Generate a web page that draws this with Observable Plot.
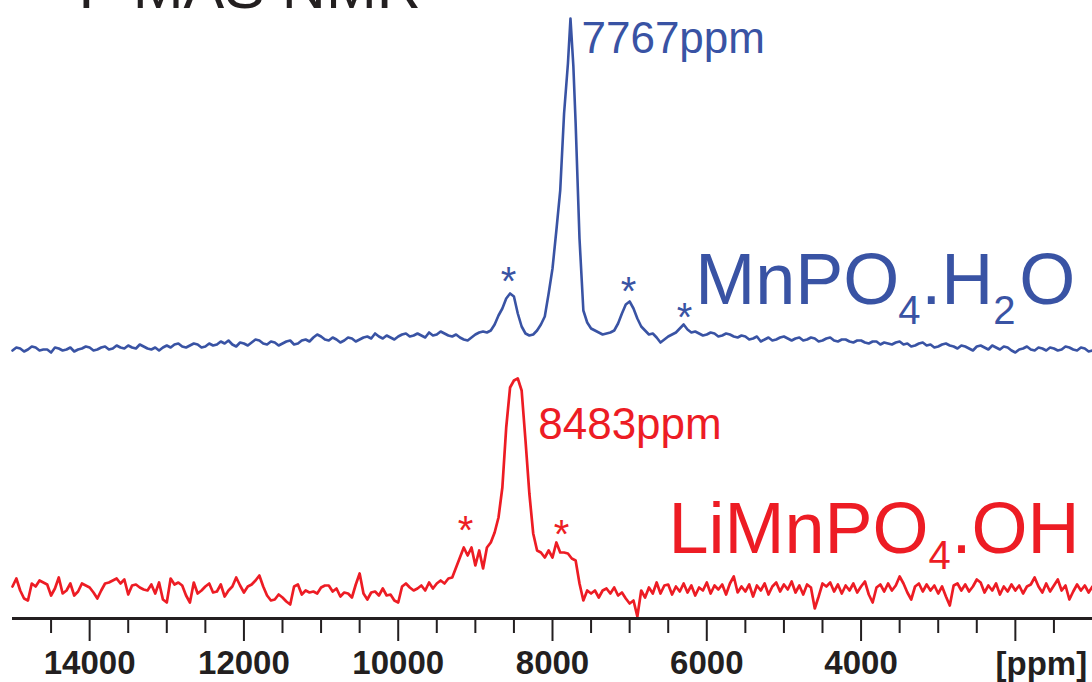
<!DOCTYPE html>
<html>
<head>
<meta charset="utf-8">
<script src="https://cdn.jsdelivr.net/npm/d3@7"></script>
<script src="https://cdn.jsdelivr.net/npm/@observablehq/plot@0.6"></script>
<style>
html,body{margin:0;padding:0;background:#fff;overflow:hidden}
</style>
</head>
<body>
<div id="chart"></div>
<script>
// ---- data ----
const bluePpm = [15000,14950,14900,14850,14800,14750,14700,14650,14600,14550,14500,14450,14400,14350,14300,14250,14200,14150,14100,14050,
14000,13950,13900,13850,13800,13750,13700,13650,13600,13550,13500,13450,13400,13350,13300,13250,13200,13150,13100,13050,
13000,12950,12900,12850,12800,12750,12700,12650,12600,12550,12500,12450,12400,12350,12300,12250,12200,12150,12100,12050,
12000,11950,11900,11850,11800,11750,11700,11650,11600,11550,11500,11450,11400,11350,11300,11250,11200,11150,11100,11050,
11000,10950,10900,10850,10800,10750,10700,10650,10600,10550,10500,10450,10400,10350,10300,10250,10200,10150,10100,10050,
10000,9950,9900,9850,9800,9750,9700,9650,9600,9550,9500,9450,9400,9350,9300,9250,9200,9150,9100,9050,
9000,8950,8900,8850,8800,8750,8700,8650,8600,8550,8500,8450,8400,8350,8300,8250,8200,8150,8100,
8050,8000,7950,7900,7850,7800,7767,7730,7700,7650,7600,7550,7500,
7450,7400,7350,7300,7250,7200,7150,7100,7050,
7000,6950,6900,6850,6800,6750,6700,6650,6600,6550,6500,6450,6400,6350,6300,6250,6200,6150,6100,6050,
6000,5950,5900,5850,5800,5750,5700,5650,5600,5550,5500,5450,5400,5350,5300,5250,5200,5150,5100,5050,
5000,4950,4900,4850,4800,4750,4700,4650,4600,4550,4500,4450,4400,4350,4300,4250,4200,4150,4100,4050,
4000,3950,3900,3850,3800,3750,3700,3650,3600,3550,3500,3450,3400,3350,3300,3250,3200,3150,3100,3050,
3000,2950,2900,2850,2800,2750,2700,2650,2600,2550,2500,2450,2400,2350,2300,2250,2200,2150,2100,2050,
2000,1950,1900,1850,1800,1750,1700,1650,1600,1550,1500,1450,1400,1350,1300,1250,1200,1150,1100,1050,
1000];
const blueIntensity = [-2,1,0,-3,-1,2,1,-2,-1,-1,-4,1,0,-2,-1,1,-3,-1,0,2,
1,-2,-1,1,2,-1,0,3,1,0,3,1,0,4,2,0,-1,1,-2,1,
3,1,4,5,2,1,3,5,4,1,2,5,3,4,7,5,8,4,2,6,
5,3,6,9,8,5,4,7,6,3,5,7,8,4,5,8,9,7,11,14,
12,9,8,11,9,6,8,11,10,7,9,11,12,10,15,12,10,13,11,9,
12,14,15,12,13,15,13,11,16,13,14,17,15,13,12,14,11,9,8,11,
14,16,17,16,18,24,33,40,50,55,52,35,22,15,13,14,18,24,32,
55,80,118,158,235,285,330,283,225,110,38,26,20,
18,16,14,15,16,18,25,35,44,
47,40,30,22,18,14,15,11,6,9,12,14,16,20,24,19,16,17,15,13,
14,16,15,12,13,15,14,12,11,13,12,9,10,12,7,9,11,8,9,11,
12,10,8,10,11,8,9,11,10,7,8,10,11,8,7,9,9,7,6,8,
8,6,5,7,7,4,6,5,4,6,7,4,5,2,3,5,6,3,4,1,
2,4,5,3,2,0,3,2,0,-2,2,3,1,-1,3,1,-1,2,1,-2,
-4,-1,0,2,-1,-2,1,0,-2,1,0,-2,-1,2,1,-1,-2,1,0,-3,
-2];

const redPpm = [15000,14950,14900,14850,14800,14750,14700,14650,14600,14550,14500,14450,14400,14350,14300,14250,14200,14150,14100,14050,
14000,13950,13900,13850,13800,13750,13700,13650,13600,13550,13500,13450,13400,13350,13300,13250,13200,13150,13100,13050,
13000,12950,12900,12850,12800,12750,12700,12650,12600,12550,12500,12450,12400,12350,12300,12250,12200,12150,12100,12050,
12000,11950,11900,11850,11800,11750,11700,11650,11600,11550,11500,11450,11400,11350,11300,11250,11200,11150,11100,11050,
11000,10950,10900,10850,10800,10750,10700,10650,10600,10550,10500,10450,10400,10350,10300,10250,10200,10150,10100,10050,
10000,9950,9900,9850,9800,9750,9700,9650,9600,9550,9500,9450,9400,9350,9300,9250,9200,9150,9100,9050,
9000,8950,8900,8850,8800,8750,8700,8650,8600,8550,8500,8450,8400,8350,8300,8250,8200,8150,8100,8050,
8000,7950,7900,7850,7800,7750,7700,7650,7600,7550,7500,7450,7400,7350,7300,7250,7200,7150,7100,7050,
7000,6950,6900,6850,6800,6750,6700,6650,6600,6550,6500,6450,6400,6350,6300,6250,6200,6150,6100,6050,
6000,5950,5900,5850,5800,5750,5700,5650,5600,5550,5500,5450,5400,5350,5300,5250,5200,5150,5100,5050,
5000,4950,4900,4850,4800,4750,4700,4650,4600,4550,4500,4450,4400,4350,4300,4250,4200,4150,4100,4050,
4000,3950,3900,3850,3800,3750,3700,3650,3600,3550,3500,3450,3400,3350,3300,3250,3200,3150,3100,3050,
3000,2950,2900,2850,2800,2750,2700,2650,2600,2550,2500,2450,2400,2350,2300,2250,2200,2150,2100,2050,
2000,1950,1900,1850,1800,1750,1700,1650,1600,1550,1500,1450,1400,1350,1300,1250,1200,1150,1100,1050,
1000];
const redIntensity = [2,10,-2,-10,-12,5,2,8,6,4,
-7,0,11,-5,-2,5,-7,-3,5,3,
1,-4,-10,-2,5,6,8,10,5,9,
-6,3,4,1,-1,-2,4,-5,6,-11,
-14,10,4,6,3,-7,-14,6,-5,-2,
2,5,-4,-3,4,-8,-2,2,11,3,
-4,2,4,8,13,2,-7,-12,-11,-6,
-9,-13,-16,2,4,-6,-2,-4,-3,-5,
1,3,3,-3,0,-8,-4,-5,-9,4,
15,-5,-11,-4,-3,-7,0,-7,-6,-12,
-14,2,5,1,-2,0,
3,-2,6,0,5,8,5,10,11,21,
31,41,33,41,23,38,20,41,46,56,
71,101,161,201,208,210,198,148,95,55,
38,36,31,38,31,46,36,36,35,30,
28,5,-12,-2,-5,-2,-9,-2,0,-5,
1,-7,-4,-10,-15,-12,-28,-2,-9,1,
-5,6,-5,3,
4,-6,2,-3,5,-4,3,-7,1,-2,
6,-5,3,-1,4,-6,5,12,-4,2,
-3,4,-8,3,-2,5,-6,2,6,-3,
4,-1,7,-4,3,-6,4,1,-20,-8,
5,2,6,-3,4,-5,3,-2,5,-4,
2,7,-6,-14,1,4,-3,5,-2,3,
12,5,-4,-11,2,5,-3,4,-2,3,
-5,2,-8,-17,3,5,-2,4,-3,2,
9,6,-4,3,-2,5,-6,2,-3,4,
-2,3,-5,2,4,11,2,-4,5,-3,
3,9,-2,3,-11,-3,4,-2,3,-4,
2];

const blueOffset = 270;
const redOffset = 30;

const majorTicks = [14000,12000,10000,8000,6000,4000,2000];
const minorTicks = [14500,13500,13000,12500,11500,11000,10500,9500,9000,8500,7500,7000,6500,5500,5000,4500,3500,3000,2500,1500];

const blueStarPpm = [8570, 7014, 6289];
const blueStarLevel = [324, 314, 288];
const redStarPpm = [9128, 7883];
const redStarLevel = [75, 71];

const bluePeakPpm = 7767;
const redPeakPpm = 8483;

// ---- styling ----
const blue = "#3953a4", red = "#ed1c24", ink = "#231f20";
const font = "'Liberation Sans', Arial, Helvetica, sans-serif";

const blueData = bluePpm.map((p, i) => ({ppm: p, v: blueOffset + blueIntensity[i]}));
const redData = redPpm.map((p, i) => ({ppm: p, v: redOffset + redIntensity[i]}));

function pieces(anchorPpm, parts, color) {
  return parts.map(p => Plot.text([p.t], {
    x: anchorPpm, y: p.v, dx: p.dx, text: d => d,
    fontSize: p.fs, fill: color, textAnchor: "start", lineAnchor: "bottom", fontFamily: font
  }));
}

const chart = Plot.plot({
  width: 1092,
  height: 682,
  marginTop: 0, marginBottom: 64, marginLeft: 0, marginRight: 0,
  x: {domain: [15000, 1000], range: [12, 1092], label: null, axis: null},
  y: {domain: [0, 618], label: null, axis: null},
  style: {background: "#fff", fontFamily: font, overflow: "hidden"},
  marks: [
    // title (cut off at the top, like the reference)
    Plot.text(["19"], {frameAnchor: "top-left", dx: 40, dy: -22, text: d => d, fontSize: 36, fill: ink, textAnchor: "start", lineAnchor: "bottom"}),
    Plot.text(["F MAS NMR"], {frameAnchor: "top-left", dx: 78, dy: 7, text: d => d, fontSize: 61, fill: ink, textAnchor: "start", lineAnchor: "bottom"}),

    // spectra
    Plot.line(blueData, {x: "ppm", y: "v", stroke: blue, strokeWidth: 2.6, strokeLinejoin: "round"}),
    Plot.line(redData, {x: "ppm", y: "v", stroke: red, strokeWidth: 2.7, strokeLinejoin: "round"}),

    // spinning sidebands
    Plot.text(blueStarPpm, {x: d => d, y: (d, i) => blueStarLevel[i], text: () => "*", fontSize: 40, fill: blue, lineAnchor: "bottom"}),
    Plot.text(redStarPpm, {x: d => d, y: (d, i) => redStarLevel[i], text: () => "*", fontSize: 40, fill: red, lineAnchor: "bottom"}),

    // peak labels
    Plot.text([bluePeakPpm], {x: d => d, y: 566, dx: 11, text: d => `${d}ppm`, fontSize: 44, fill: blue, textAnchor: "start", lineAnchor: "bottom"}),
    Plot.text([redPeakPpm], {x: d => d, y: 180, dx: 23, text: d => `${d}ppm`, fontSize: 44, fill: red, textAnchor: "start", lineAnchor: "bottom"}),

    // compound labels
    ...pieces(6150, [
      {t: "MnPO", v: 315, dx: 0, fs: 72},
      {t: "4", v: 295, dx: 203, fs: 40},
      {t: ".H", v: 315, dx: 226, fs: 72},
      {t: "2", v: 295, dx: 298, fs: 40},
      {t: "O", v: 315, dx: 324, fs: 72}
    ], blue),
    ...pieces(6496, [
      {t: "LiMnPO", v: 66, dx: 0, fs: 72},
      {t: "4", v: 50, dx: 260, fs: 40},
      {t: ".OH", v: 66, dx: 283, fs: 72}
    ], red),

    // x axis
    Plot.ruleY([0], {x1: 15000, x2: 1000, stroke: ink, strokeWidth: 3}),
    Plot.axisX(minorTicks, {anchor: "bottom", tickSize: 15, strokeWidth: 2, stroke: ink, tickFormat: () => "", label: null}),
    Plot.axisX(majorTicks, {anchor: "bottom", tickSize: 23, tickPadding: 9, strokeWidth: 2, stroke: ink, fill: ink,
      tickFormat: d => d === 2000 ? "" : String(d), fontSize: 33, fontWeight: "bold", fontFamily: font, label: null}),
    Plot.text(["[ppm]"], {x: 2000, y: 0, dx: 26, dy: 56, text: d => d, fontSize: 33, fontWeight: "bold", fill: ink, lineAnchor: "bottom"})
  ]
});
document.getElementById("chart").appendChild(chart);
</script>
</body>
</html>
